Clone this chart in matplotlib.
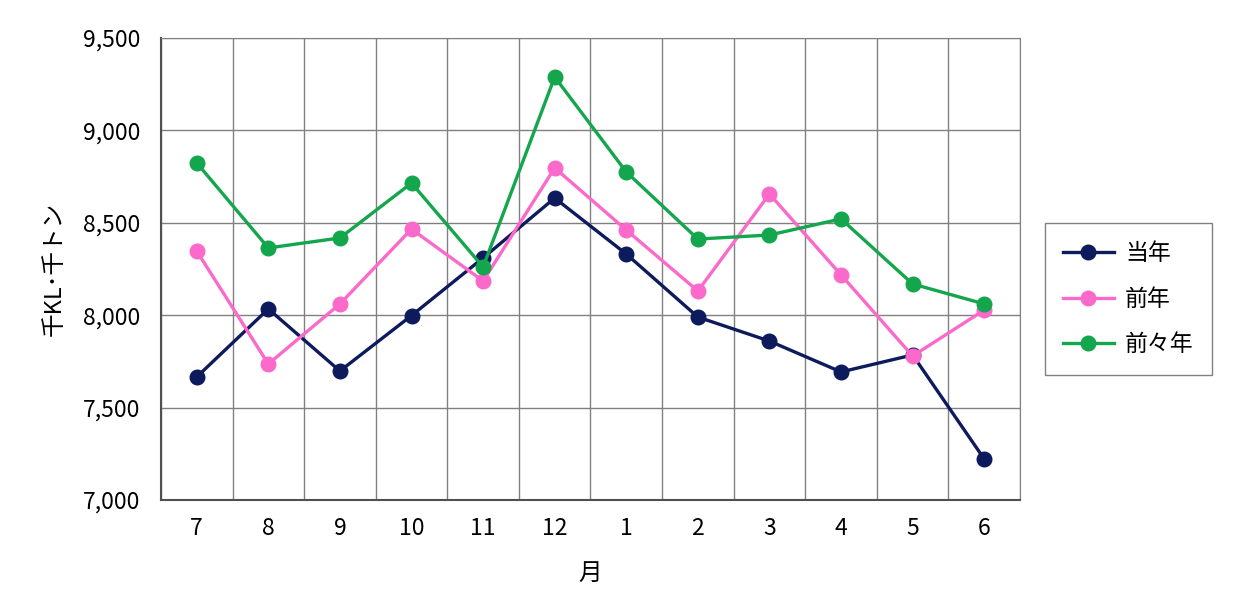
import numpy as np
import matplotlib.pyplot as plt

plt.rcParams['font.family'] = ['Noto Sans CJK JP', 'DejaVu Sans']

months = ['7', '8', '9', '10', '11', '12', '1', '2', '3', '4', '5', '6']
this_year = [7666, 8034, 7698, 7998, 8310, 8634, 8331, 7990, 7860, 7693, 7785, 7222]
last_year = [8347, 7736, 8061, 8466, 8185, 8797, 8461, 8131, 8656, 8218, 7779, 8028]
two_years_ago = [8824, 8364, 8418, 8715, 8261, 9289, 8775, 8412, 8434, 8521, 8169, 8061]
series_names = ['当年', '前年', '前々年']
colors = ['#0d1b5c', '#fb6acb', '#13a64c']

fig = plt.figure(figsize=(12.4, 6.06), dpi=100)
ax = fig.add_axes([0.1298, 0.1749, 0.6928, 0.7624])

x = np.arange(len(months))
for vals, name, c in zip([this_year, last_year, two_years_ago], series_names, colors):
    ax.plot(x, vals, color=c, lw=2.4, marker='o', ms=10.5, label=name, zorder=3)

ax.set_xlim(-0.5, len(months) - 0.5)
ax.set_ylim(7000, 9500)
ax.set_yticks(np.arange(7000, 9501, 500))
ax.set_yticklabels([f'{v:,}' for v in range(7000, 9501, 500)])
ax.set_xticks(x)
ax.set_xticklabels(months)
ax.set_xticks(np.arange(-0.5, len(months)), minor=True)
ax.grid(True, which='minor', axis='x', color='#808080', lw=1.0)
ax.grid(True, which='major', axis='y', color='#808080', lw=1.0)
ax.tick_params(axis='y', which='major', labelsize=16.5, length=0, pad=15)
ax.tick_params(axis='x', which='major', labelsize=16.5, length=0, pad=12)
ax.tick_params(axis='x', which='minor', length=0)
for s in ['top', 'right']:
    ax.spines[s].set_color('#808080')
for s in ['left', 'bottom']:
    ax.spines[s].set_color('#505050')
    ax.spines[s].set_linewidth(1.5)

ax.set_ylabel('千KL･千トン', fontsize=17, labelpad=12)
ax.set_xlabel('月', fontsize=17, labelpad=16)

leg = ax.legend(loc='center left', bbox_to_anchor=(1.029, 0.435), borderaxespad=0,
                fontsize=16.5, handlelength=2.2, handletextpad=0.5, labelspacing=1.0,
                borderpad=0.8, fancybox=False, edgecolor='#808080', framealpha=1)
leg.get_frame().set_linewidth(1.0)

fig.savefig('out.png', dpi=100)
